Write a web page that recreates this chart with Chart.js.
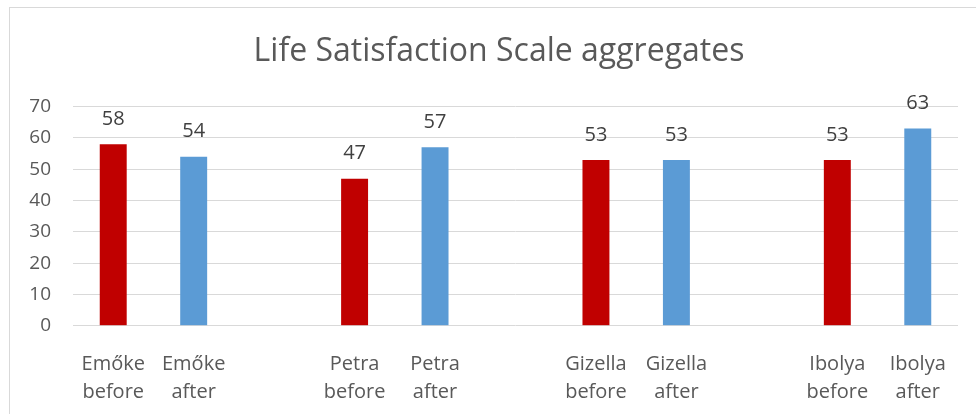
<!DOCTYPE html>
<html>
<head>
<meta charset="utf-8">
<script src="https://cdn.jsdelivr.net/npm/chart.js@4"></script>
<style>
  html, body { margin: 0; padding: 0; background: #fff; overflow: hidden; }
  #frame { position: absolute; left: 9px; top: 7px; width: 1000px; height: 500px; border: 1px solid #d9d9d9; }
  #wrap { position: absolute; left: 0; top: 0; width: 976px; height: 414px; }
</style>
</head>
<body>
<div id="frame"></div>
<div id="wrap"><canvas id="chart"></canvas></div>
<script>
const people = ['Emőke', 'Petra', 'Gizella', 'Ibolya'];
const beforeVals = [58, 47, 53, 53];
const afterVals = [54, 57, 53, 63];
const yTicks = [0, 10, 20, 30, 40, 50, 60, 70];

const RED = '#C00000';
const BLUE = '#5B9BD5';
const FONT = '"Open Sans", sans-serif';

// one category per bar, blank category between the people
const labels = [];
const beforeData = [];
const afterData = [];
people.forEach((p, i) => {
  labels.push([p, 'before']); beforeData.push(beforeVals[i]); afterData.push(null);
  labels.push([p, 'after']); beforeData.push(null); afterData.push(afterVals[i]);
  if (i < people.length - 1) { labels.push(''); beforeData.push(null); afterData.push(null); }
});

const valueLabels = {
  id: 'valueLabels',
  afterLayout(chart) {
    // title is centred over the whole frame, not just up to the plot edge
    if (chart.titleBlock) chart.titleBlock.left = 40;
  },
  afterDatasetsDraw(chart) {
    const ctx = chart.ctx;
    ctx.save();
    ctx.font = '20px ' + FONT;
    ctx.fillStyle = '#404040';
    ctx.textAlign = 'center';
    ctx.textBaseline = 'middle';
    chart.data.datasets.forEach((ds, di) => {
      chart.getDatasetMeta(di).data.forEach((bar, j) => {
        const v = ds.data[j];
        if (v == null) return;
        ctx.fillText(String(v), bar.x, bar.y - 25);
      });
    });
    ctx.restore();
  }
};

new Chart(document.getElementById('chart'), {
  type: 'bar',
  data: {
    labels: labels,
    datasets: [
      { label: 'before', data: beforeData, backgroundColor: RED, grouped: false,
        barPercentage: 0.335, categoryPercentage: 1 },
      { label: 'after', data: afterData, backgroundColor: BLUE, grouped: false,
        barPercentage: 0.335, categoryPercentage: 1 }
    ]
  },
  options: {
    responsive: true,
    maintainAspectRatio: false,
    animation: false,
    layout: { padding: { left: 0, right: 18, top: 0, bottom: 0 } },
    plugins: {
      legend: { display: false },
      tooltip: { enabled: false },
      title: {
        display: true,
        text: 'Life Satisfaction Scale aggregates',
        color: '#595959',
        font: { family: FONT, size: 32, weight: 'normal', lineHeight: 1.2 },
        padding: { top: 33, bottom: 35.3 }
      }
    },
    scales: {
      x: {
        grid: { display: false },
        border: { display: false },
        ticks: {
          color: '#595959',
          font: { family: FONT, size: 20, lineHeight: 1.4 },
          padding: 17,
          maxRotation: 0,
          autoSkip: false
        },
        afterFit: s => { s.height = 88.3; }
      },
      y: {
        min: 0,
        max: 70,
        afterBuildTicks: s => { s.ticks = yTicks.map(v => ({ value: v })); },
        grid: { color: '#d9d9d9', lineWidth: 1, drawTicks: false },
        border: { display: false },
        ticks: {
          color: '#595959',
          font: { family: FONT, size: 19 },
          padding: 22
        },
        afterFit: s => { s.width = 73; }
      }
    }
  },
  plugins: [valueLabels]
});
</script>
</body>
</html>
